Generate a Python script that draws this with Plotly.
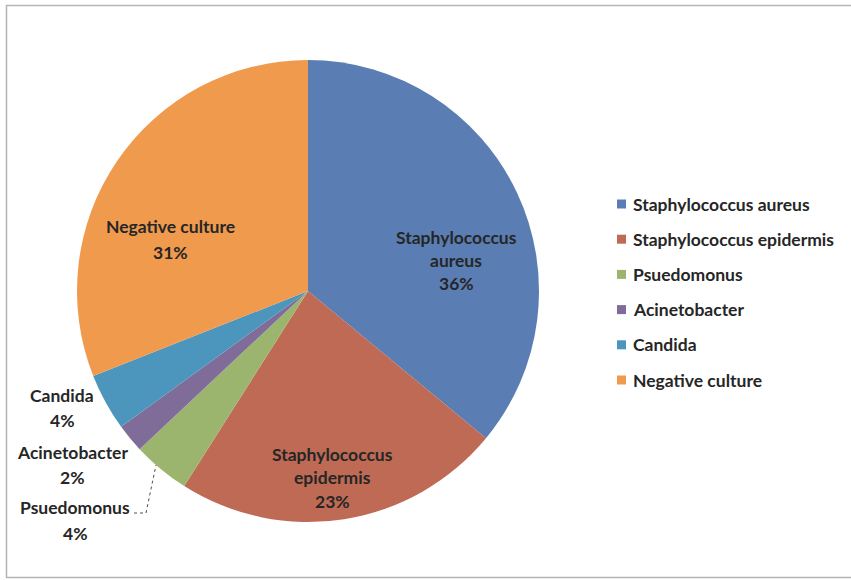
import plotly.graph_objects as go

categories = ["Staphylococcus aureus", "Staphylococcus epidermis", "Psuedomonus",
              "Acinetobacter", "Candida", "Negative culture"]
values = [36, 23, 4, 2, 4, 31]
label_lines = [["Staphylococcus", "aureus"], ["Staphylococcus", "epidermis"], ["Psuedomonus"],
               ["Acinetobacter"], ["Candida"], ["Negative culture"]]
colors = ["#5A7EB3", "#BE6A55", "#9BB56E", "#7F6C98", "#4C96BE", "#F09A4E"]

W, H = 851, 580
FONT = "Lato"
FS = 17.5
TXT = "#262626"

# label anchor (center x, first-line y, line spacing) in pixels
label_pos = [(456, 237, 23.3), (332, 454, 23.5), (75, 507, 26),
             (72, 452, 25), (62, 395, 25), (170, 227, 25)]

fig = go.Figure()
fig.add_trace(go.Pie(
    labels=categories, values=values, textinfo="none",
    sort=False, direction="clockwise", rotation=0,
    marker=dict(colors=colors, line=dict(width=0)),
    showlegend=False, hoverinfo="label+percent",
    domain=dict(x=[(308 - 231) / W, (308 + 231) / W], y=[1 - 522 / H, 1 - 60 / H]),
))

annotations = []
shapes = []

def px(x):
    return x / W

def py(y):
    return 1 - y / H

# data labels
for lines, v, (cx, cy, sp) in zip(label_lines, values, label_pos):
    for k, t in enumerate(lines + [f"{v}%"]):
        annotations.append(dict(
            x=px(cx), y=py(cy + k * sp), xref="paper", yref="paper",
            xanchor="center", yanchor="middle", text=f"<b>{t}</b>", showarrow=False,
            font=dict(family=FONT, size=FS, color=TXT),
        ))

# legend
for i, (c, col) in enumerate(zip(categories, colors)):
    ry = 204 + 35.2 * i
    shapes.append(dict(type="rect", xref="paper", yref="paper",
                       x0=px(617), x1=px(626), y0=py(ry + 4.5), y1=py(ry - 4.5),
                       fillcolor=col, line=dict(width=0)))
    annotations.append(dict(
        x=px(631), y=py(ry), xref="paper", yref="paper",
        xanchor="left", yanchor="middle", text=f"<b>{c}</b>", showarrow=False,
        font=dict(family=FONT, size=FS, color=TXT),
    ))

shapes += [
    dict(type="rect", xref="paper", yref="paper",
         x0=px(6.5), x1=1.02, y0=py(577.5), y1=py(5.5),
         line=dict(color="#b5b5b5", width=1.5)),
    dict(type="path", xref="paper", yref="paper",
         path=f"M {px(134)} {py(513)} L {px(146)} {py(513)} L {px(156)} {py(465)}",
         line=dict(color="#505050", width=1, dash="dot")),
]

fig.update_layout(
    width=W, height=H,
    margin=dict(l=0, r=0, t=0, b=0),
    paper_bgcolor="white", plot_bgcolor="white",
    annotations=annotations, shapes=shapes,
    font=dict(family=FONT),
)

fig.write_html("out.html")
